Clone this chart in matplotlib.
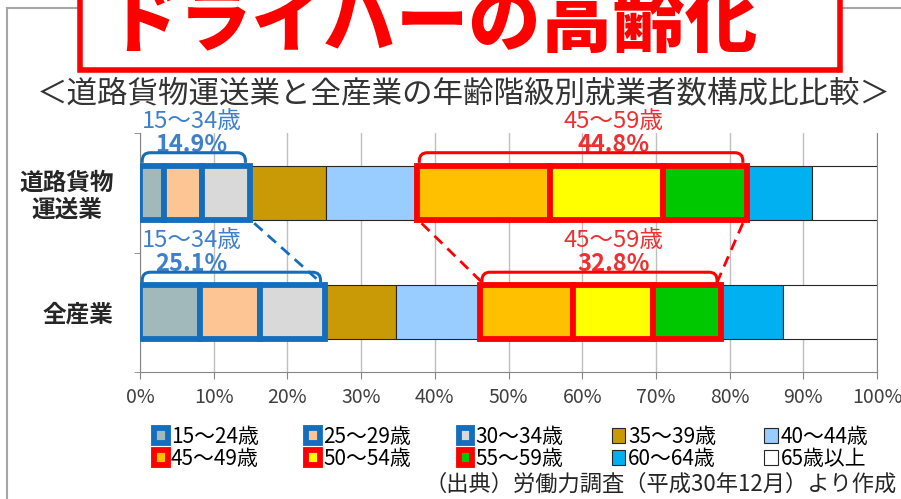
import numpy as np
import matplotlib
matplotlib.use("Agg")
import matplotlib.pyplot as plt
from matplotlib.path import Path
from matplotlib.patches import PathPatch, Rectangle
from matplotlib.lines import Line2D

plt.rcParams['font.family'] = ['Noto Sans CJK JP', 'DejaVu Sans']

# data (% of workers by age band)
categories = ['道路貨物\n運送業', '全産業']
age_groups = ['15～24歳', '25～29歳', '30～34歳', '35～39歳', '40～44歳',
              '45～49歳', '50～54歳', '55～59歳', '60～64歳', '65歳以上']
road_freight = [3.3, 5.1, 6.5, 10.3, 12.4, 18.0, 15.4, 11.4, 8.8, 8.8]
all_industry = [8.1, 8.2, 8.8, 9.6, 11.4, 12.7, 10.8, 9.3, 8.3, 12.8]
x_ticks = [0, 10, 20, 30, 40, 50, 60, 70, 80, 90, 100]

young_idx = [0, 1, 2]     # 15～34歳
middle_idx = [5, 6, 7]    # 45～59歳

colors = ['#A2B9BC', '#FCC593', '#D9D9D9', '#C99A06', '#99CCFF',
          '#FFC000', '#FFFF00', '#00C800', '#00B0F0', '#FFFFFF']
BLUE = '#146EBE'
BLUE_TXT = '#3F80CC'
RED = '#FF0000'
RED_TXT = '#EE3030'

W, H = 901, 499
fig = plt.figure(figsize=(W / 100, H / 100), dpi=100)


def fx(px):
    return px / W


def fy(py):
    return 1 - py / H


ax = fig.add_axes([fx(140), fy(372), fx(877) - fx(140), fy(133) - fy(372)])

rows = [road_freight, all_industry]
ypos = [1, 0]
bar_h = 0.45
handles = [None] * len(age_groups)

for vals, y in zip(rows, ypos):
    lefts = np.concatenate([[0], np.cumsum(vals)[:-1]])
    # plain segments first, highlighted ones on top
    order = [i for i in range(len(vals)) if i not in young_idx + middle_idx] + young_idx + middle_idx
    for i in order:
        if i in young_idx:
            ec, lw, z = BLUE, 4.2, 4
        elif i in middle_idx:
            ec, lw, z = RED, 4.2, 4
        else:
            ec, lw, z = '#262626', 0.8, 3
        b = ax.barh(y, vals[i], left=lefts[i], height=bar_h, color=colors[i],
                    edgecolor=ec, linewidth=lw, zorder=z)
        if handles[i] is None:
            handles[i] = b.patches[0]


def bracket(x0, x1, yb, yt, color):
    rx, ry = 1.1, (yt - yb) * 0.8
    verts = [(x0, yb), (x0, yt - ry), (x0, yt), (x0 + rx, yt),
             (x1 - rx, yt), (x1, yt), (x1, yt - ry), (x1, yb)]
    codes = [Path.MOVETO, Path.LINETO, Path.CURVE3, Path.CURVE3,
             Path.LINETO, Path.CURVE3, Path.CURVE3, Path.LINETO]
    ax.add_patch(PathPatch(Path(verts, codes), fill=False, edgecolor=color,
                           linewidth=2.2, zorder=6, clip_on=False))


ends = {}
for vals, y in zip(rows, ypos):
    cum = np.concatenate([[0], np.cumsum(vals)])
    ya, yb = y + bar_h / 2 + 0.025, y + bar_h / 2 + 0.11
    y0, y1 = cum[young_idx[0]], cum[young_idx[-1] + 1]
    m0, m1 = cum[middle_idx[0]], cum[middle_idx[-1] + 1]
    bracket(y0 + 0.3, y1 - 0.6, ya, yb, BLUE)
    bracket(m0 + 0.3, m1 - 0.6, ya, yb, RED)
    ends[y] = (y0, y1, m0, m1, ya)
    ysum = sum(vals[i] for i in young_idx)
    msum = sum(vals[i] for i in middle_idx)
    ax.text(7.0, y + 0.60, '15～34歳', color=BLUE_TXT, fontsize=17,
            ha='center', va='center', zorder=5)
    ax.text(7.0, y + 0.40, f'{ysum:.1f}%', color=BLUE_TXT, fontsize=17,
            fontweight='bold', ha='center', va='center', zorder=5)
    ax.text(64.3, y + 0.60, '45～59歳', color=RED_TXT, fontsize=17,
            ha='center', va='center', zorder=5)
    ax.text(64.3, y + 0.40, f'{msum:.1f}%', color=RED_TXT, fontsize=17,
            fontweight='bold', ha='center', va='center', zorder=5)

# dashed connectors from the truck bar to the all-industry brackets
t, b_ = ends[1], ends[0]
top_bottom = 1 - bar_h / 2
ax.plot([t[1] + 0.6, b_[1] - 0.6], [top_bottom - 0.03, b_[4]], color=BLUE,
        lw=2.0, ls=(0, (4, 2.5)), zorder=5, clip_on=False)
ax.plot([t[2] + 0.6, b_[2] + 0.3], [top_bottom - 0.03, b_[4]], color=RED,
        lw=2.0, ls=(0, (4, 2.5)), zorder=5, clip_on=False)
ax.plot([t[3] - 0.6, b_[3] - 0.6], [top_bottom - 0.03, b_[4]], color=RED,
        lw=2.0, ls=(0, (4, 2.5)), zorder=5, clip_on=False)

ax.set_xlim(0, 100)
ax.set_ylim(-0.5, 1.5)
ax.set_xticks(x_ticks)
ax.set_xticklabels([f'{v}%' for v in x_ticks], fontsize=14, color='#404040')
ax.set_yticks(ypos)
ax.set_yticklabels(categories, fontsize=17, fontweight='bold', color='#262626',
                   linespacing=1.15, multialignment='center')
ax.set_yticks([-0.5, 0.5, 1.5], minor=True)
ax.tick_params(axis='y', which='major', length=0, pad=19)
ax.tick_params(axis='y', which='minor', length=4, color='#868686')
ax.tick_params(axis='x', length=5, color='#868686', pad=6)
ax.grid(axis='x', color='#BFBFBF', linewidth=1.0)
ax.set_axisbelow(True)
ax.spines['top'].set_visible(False)
for s in ['left', 'bottom', 'right']:
    ax.spines[s].set_color('#868686')

leg_order = [0, 5, 1, 6, 2, 7, 3, 8, 4, 9]
fig.legend([handles[i] for i in leg_order], [age_groups[i] for i in leg_order],
           ncol=5, loc='center left', bbox_to_anchor=(fx(154), fy(448)),
           frameon=False, fontsize=15, handlelength=0.65, handleheight=0.7,
           handletextpad=0.15, columnspacing=2.3, labelspacing=0.0,
           borderpad=0, borderaxespad=0)

fig.text(fx(897), fy(484), '（出典）労働力調査（平成30年12月）より作成', fontsize=16,
         color='#262626', ha='right', va='center')

# slide frame and title box
fig.add_artist(Line2D([fx(7), fx(7)], [fy(8), 0], color='#A6A6A6', lw=1.5))
fig.add_artist(Line2D([fx(7), 1], [fy(8), fy(8)], color='#A6A6A6', lw=1.5))
fig.add_artist(Rectangle((fx(80), fy(70)), fx(840) - fx(80), fy(-20) - fy(70),
                         facecolor='white', edgecolor=RED, lw=4.0, zorder=5))
fig.text(fx(432), fy(46), 'ドライバーの高齢化', fontsize=52, fontweight='black',
         color=RED, ha='center', va='baseline', zorder=6)
fig.text(fx(464), fy(95), '＜道路貨物運送業と全産業の年齢階級別就業者数構成比比較＞',
         fontsize=22, color='#333333', ha='center', va='center')

fig.savefig('out.png', dpi=100)
